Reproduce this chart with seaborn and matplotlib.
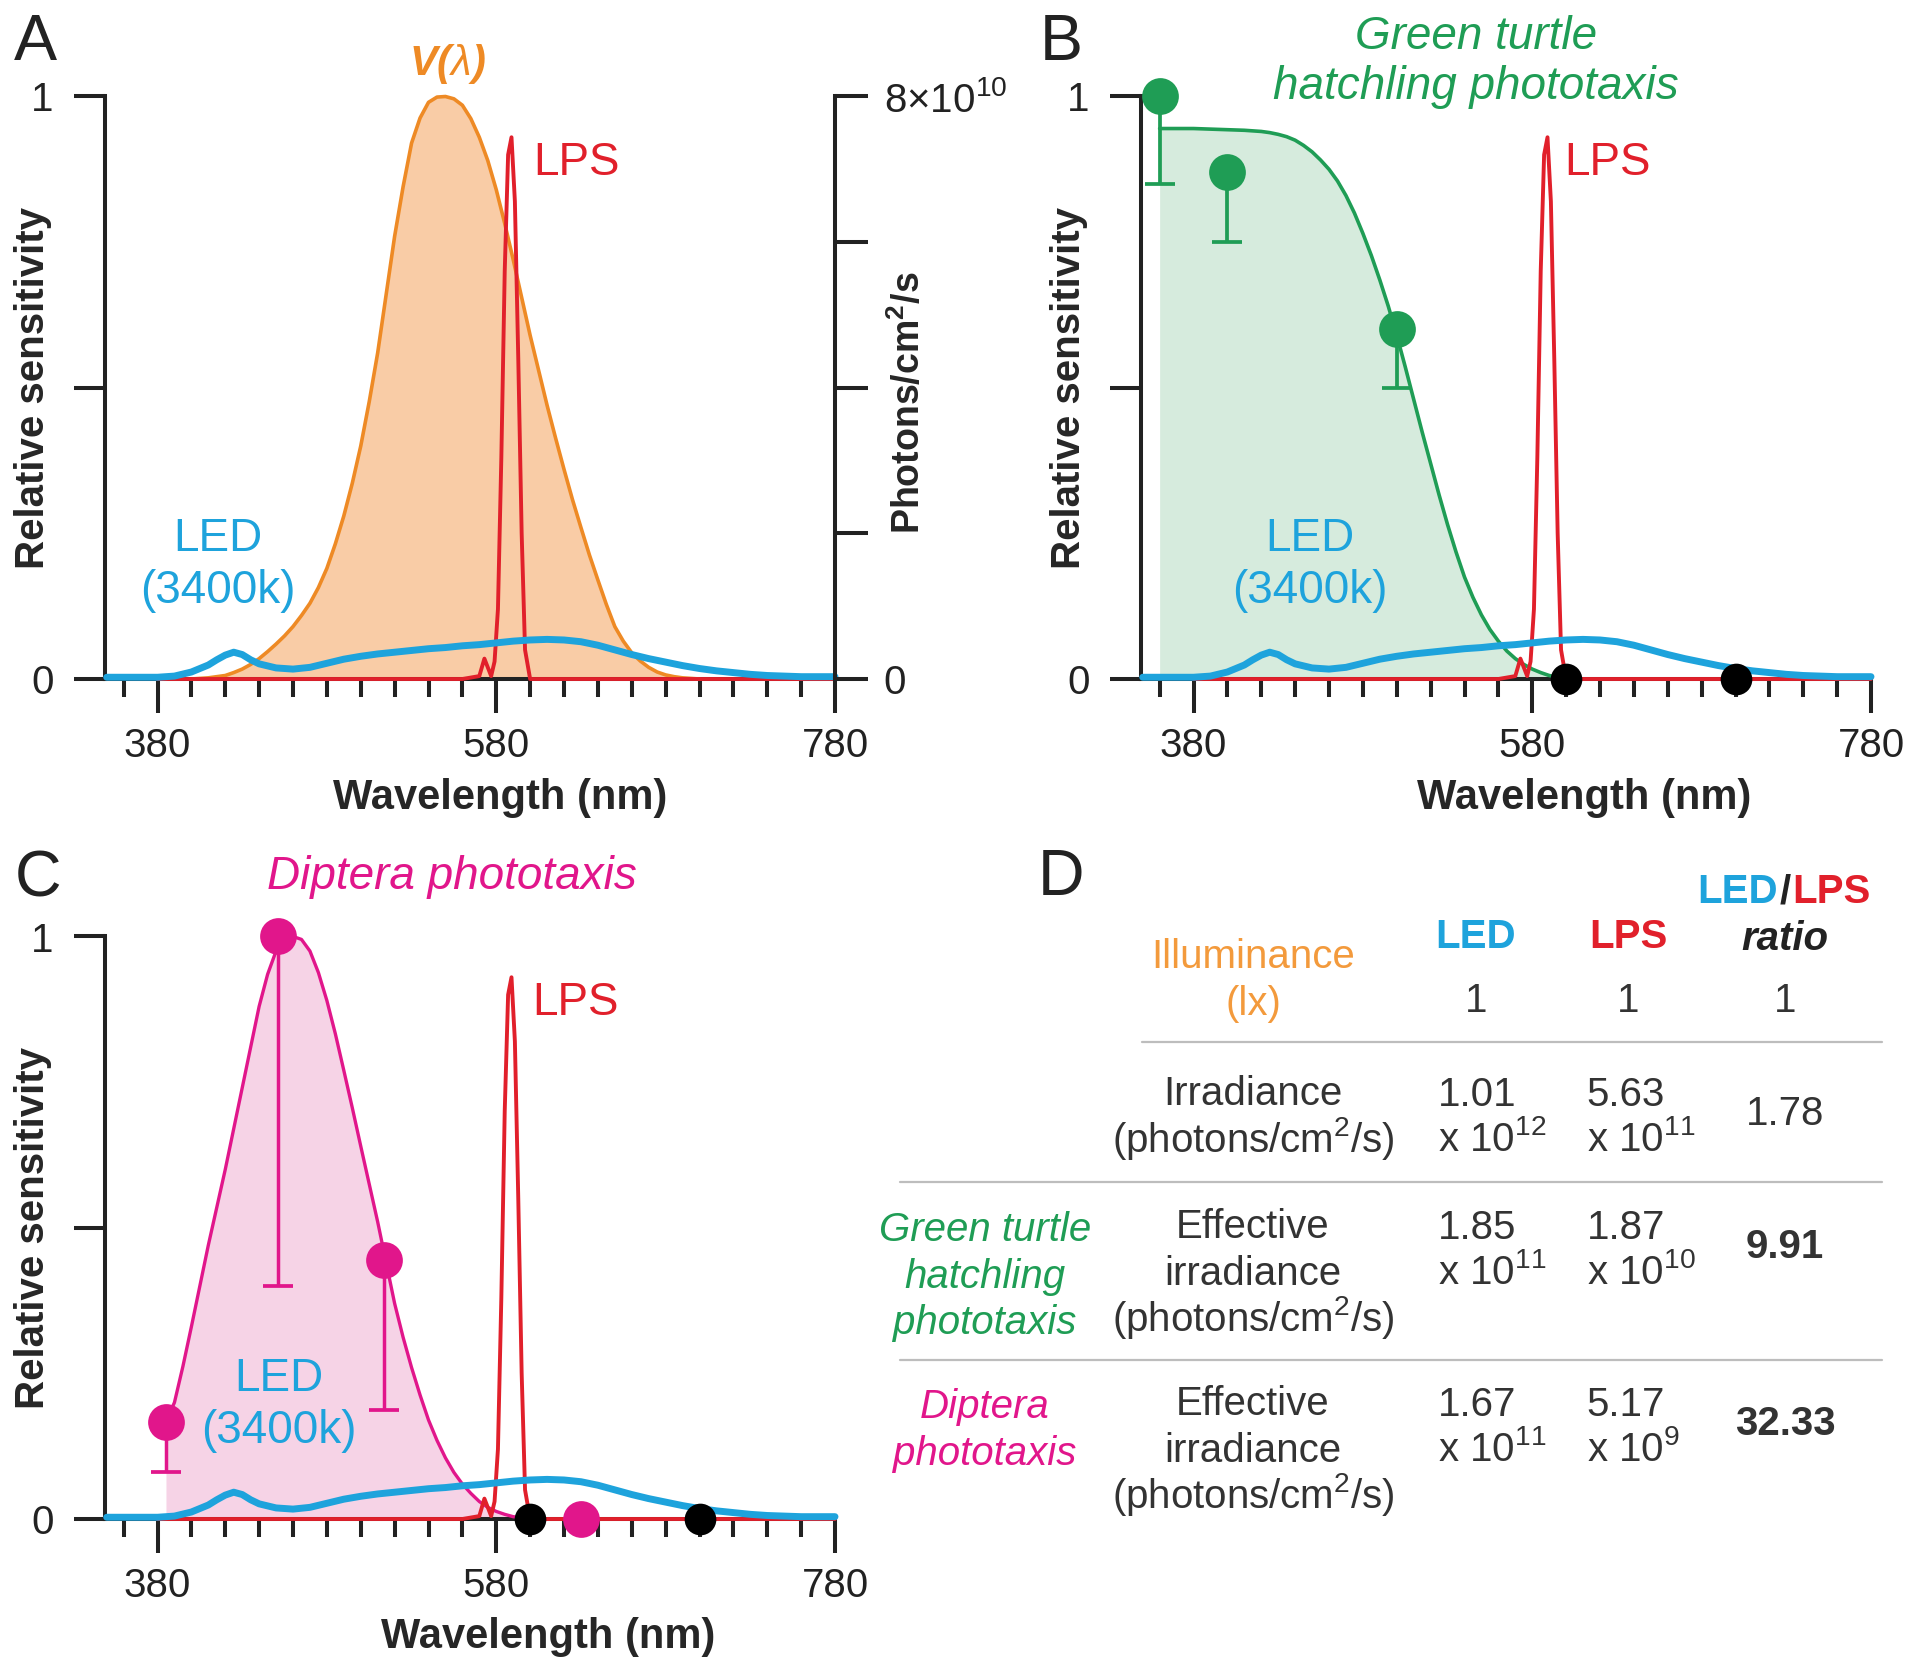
import numpy as np
import matplotlib
matplotlib.use("Agg")
import matplotlib.pyplot as plt
import seaborn as sns

# -----------------------------
# Data
# -----------------------------
# photopic sensitivity V(lambda)
vlambda_nm = list(range(400, 705, 5))
vlambda = [0.0, 0.001, 0.002, 0.004, 0.006, 0.011, 0.017, 0.025, 0.035, 0.047, 0.06, 0.074, 0.09,
           0.109, 0.13, 0.157, 0.19, 0.232, 0.28, 0.336, 0.40, 0.476, 0.56, 0.66, 0.76, 0.845, 0.92,
           0.963, 0.99, 0.999, 1.0, 0.996, 0.985, 0.962, 0.93, 0.89, 0.84, 0.782, 0.72, 0.655, 0.59,
           0.53, 0.47, 0.414, 0.36, 0.308, 0.26, 0.213, 0.17, 0.128, 0.09, 0.065, 0.045, 0.031, 0.02,
           0.012, 0.007, 0.004, 0.002, 0.001, 0.0]

# LED (3400k) spectrum
led_nm = [350, 360, 370, 380, 390, 400, 410, 415, 420, 425, 430, 435, 440, 450, 460, 470, 480, 490,
          500, 510, 520, 530, 540, 550, 560, 570, 580, 590, 600, 610, 620, 630, 640, 650, 660, 670,
          680, 690, 700, 710, 720, 730, 740, 750, 760, 770, 780]
led = [0.003, 0.003, 0.003, 0.003, 0.005, 0.012, 0.024, 0.033, 0.041, 0.046, 0.042, 0.033, 0.026, 0.019,
       0.017, 0.02, 0.027, 0.034, 0.039, 0.043, 0.046, 0.049, 0.052, 0.054, 0.057, 0.059, 0.062, 0.065,
       0.067, 0.068, 0.067, 0.064, 0.058, 0.05, 0.042, 0.035, 0.029, 0.023, 0.018, 0.014, 0.011, 0.008,
       0.006, 0.005, 0.004, 0.004, 0.004]

# LPS spectrum
lps_nm = [380, 560, 570, 573, 575, 577, 579, 581, 583, 585, 587, 589, 591, 593, 595, 597, 600, 780]
lps = [0, 0, 0.005, 0.035, 0.02, 0.005, 0.03, 0.12, 0.38, 0.7, 0.9, 0.93, 0.82, 0.55, 0.25, 0.05, 0, 0]

# green turtle hatchling phototaxis
turtle_nm = [360, 370, 380, 390, 400, 410, 420] + list(range(425, 605, 5))
turtle = [0.945, 0.945, 0.945, 0.944, 0.943, 0.942, 0.94,
          0.938, 0.935, 0.931, 0.925, 0.916, 0.905, 0.891, 0.875, 0.855, 0.83, 0.80, 0.765, 0.727,
          0.685, 0.64, 0.59, 0.536, 0.48, 0.424, 0.37, 0.316, 0.265, 0.218, 0.175, 0.14, 0.11, 0.085,
          0.065, 0.048, 0.035, 0.025, 0.017, 0.011, 0.006, 0.003, 0.0]
turtle_pts_nm = [360, 400, 500]
turtle_pts = [1.0, 0.87, 0.60]
turtle_err_lo = [0.15, 0.12, 0.10]

# diptera phototaxis
diptera_nm = list(range(385, 605, 5))
diptera = [0.167, 0.2, 0.262, 0.33, 0.40, 0.47, 0.535, 0.60, 0.67, 0.74, 0.81, 0.88, 0.935, 0.975,
           0.995, 1.0, 0.995, 0.975, 0.938, 0.89, 0.833, 0.77, 0.706, 0.64, 0.575, 0.51, 0.44, 0.37,
           0.312, 0.26, 0.213, 0.17, 0.135, 0.105, 0.08, 0.06, 0.044, 0.03, 0.02, 0.013, 0.008, 0.004,
           0.002, 0.0]
diptera_pts_nm = [385, 451, 514]
diptera_pts = [0.167, 1.0, 0.445]
diptera_err_lo = [0.086, 0.60, 0.258]
diptera_zero_nm = [630]

zero_pts_nm = [600, 700]

# table (panel D)
tbl_led = ["1.01", "1.85", "1.67"]
tbl_led_exp = ["12", "11", "11"]
tbl_lps = ["5.63", "1.87", "5.17"]
tbl_lps_exp = ["11", "10", "9"]
tbl_ratio = ["1.78", "9.91", "32.33"]

# -----------------------------
# Style
# -----------------------------
ORANGE = "#ee8a25"
ORANGE_FILL = "#f9cca6"
BLUE = "#1ea3dc"
RED = "#e1202b"
GREEN = "#1f9d55"
GREEN_FILL = "#d6ebdd"
PINK = "#e1168b"
PINK_FILL = "#f6d3e6"
DARK = "#222222"
GREY_TXT = "#333333"

sns.set_theme(style="ticks")
plt.rcParams["font.family"] = ["Liberation Sans", "DejaVu Sans"]
plt.rcParams["mathtext.fontset"] = "custom"
plt.rcParams["mathtext.rm"] = "Liberation Sans"
plt.rcParams["mathtext.it"] = "Liberation Sans:italic"
plt.rcParams["mathtext.bf"] = "Liberation Sans:bold"
plt.rcParams["text.color"] = DARK
plt.rcParams["axes.edgecolor"] = DARK
plt.rcParams["xtick.color"] = DARK
plt.rcParams["ytick.color"] = DARK

W, H = 1913, 1667
fig = plt.figure(figsize=(W / 100, H / 100), dpi=100)
fig.patch.set_facecolor("white")


def px(x, y):
    return x / W, 1 - y / H


def make_axes(left, top_y0):
    # left edge and y=0 position in pixels
    l, b = px(left, top_y0)
    ax = fig.add_axes([l, b, 730 / W, 582.5 / H])
    ax.set_facecolor("none")
    ax.set_xlim(349, 780)
    ax.set_ylim(0, 1)
    ax.set_xticks([380, 580, 780])
    ax.set_xticklabels(["380", "580", "780"])
    ax.set_xticks([x for x in range(360, 780, 20) if x not in (380, 580)], minor=True)
    ax.set_yticks([0, 0.5, 1])
    ax.set_yticklabels(["0", "", "1"])
    ax.tick_params(axis="x", which="major", length=24.5, width=2.9, pad=10, labelsize=29, direction="out")
    ax.tick_params(axis="x", which="minor", length=13, width=2.9, direction="out")
    ax.tick_params(axis="y", length=22, width=2.9, pad=15, labelsize=29, direction="out")
    for s in ["top", "right"]:
        ax.spines[s].set_visible(False)
    for s in ["left", "bottom"]:
        ax.spines[s].set_linewidth(2.9)
    ax.set_xlabel("Wavelength (nm)", fontsize=30, fontweight="bold")
    ax.set_ylabel("Relative sensitivity", fontsize=29, fontweight="bold")
    ax.yaxis.set_label_coords(-0.073, 0.5)
    return ax


def draw_sources(ax, led_x, lps_x):
    sns.lineplot(x=lps_nm, y=lps, ax=ax, color=RED, lw=2.8, zorder=4, clip_on=False)
    sns.lineplot(x=led_nm, y=led, ax=ax, color=BLUE, lw=5, zorder=5, clip_on=False)
    ax.text(lps_x, 0.865, "LPS", color=RED, fontsize=33, va="baseline", ha="left")
    ax.text(led_x, 0.2206, "LED", color=BLUE, fontsize=33, va="baseline", ha="center")
    ax.text(led_x, 0.131, "(3400k)", color=BLUE, fontsize=33, va="baseline", ha="center")


# -----------------------------
# Panel A
# -----------------------------
axA = make_axes(105, 679)
axA.fill_between(vlambda_nm, vlambda, 0, color=ORANGE_FILL, lw=0, zorder=1)
sns.lineplot(x=vlambda_nm, y=vlambda, ax=axA, color=ORANGE, lw=2.6, zorder=3, clip_on=False)
draw_sources(axA, 415.5, 602)
axA.text(551, 1.037, r"V($\lambda$)", color=ORANGE, fontsize=30, fontweight="bold",
         fontstyle="italic", ha="center", va="baseline")
axA.xaxis.set_label_coords(0.541, -0.17)

axA2 = axA.twinx()
axA2.set_ylim(0, 8e10)
axA2.set_yticks([0, 2e10, 4e10, 6e10, 8e10])
axA2.set_yticklabels(["0", "", "", "", r"8×10$^{10}$"])
axA2.tick_params(axis="y", length=24, width=2.9, pad=11, labelsize=29, direction="out")
for s in ["top", "left", "bottom"]:
    axA2.spines[s].set_visible(False)
axA2.spines["right"].set_linewidth(2.9)
axA2.set_ylabel(r"Photons/cm$^{\mathbf{2}}$/s", fontsize=27, fontweight="bold")
axA2.yaxis.set_label_coords(1.075, 0.474)

# -----------------------------
# Panel B
# -----------------------------
axB = make_axes(1141, 679)
axB.fill_between(turtle_nm, turtle, 0, color=GREEN_FILL, lw=0, zorder=1)
sns.lineplot(x=turtle_nm, y=turtle, ax=axB, color=GREEN, lw=2.6, zorder=3, clip_on=False)
draw_sources(axB, 449, 599)
axB.errorbar(turtle_pts_nm, turtle_pts, yerr=[turtle_err_lo, [0] * len(turtle_pts)], fmt="none",
             ecolor=GREEN, elinewidth=2.7, capsize=10.5, capthick=2.7, zorder=6, clip_on=False)
sns.scatterplot(x=turtle_pts_nm, y=turtle_pts, ax=axB, color=GREEN, s=700, linewidth=0,
                zorder=7, clip_on=False)
sns.scatterplot(x=zero_pts_nm, y=[0] * len(zero_pts_nm), ax=axB, color="black", s=520,
                linewidth=0, zorder=8, clip_on=False)
axB.text(547, 1.082, "Green turtle", color=GREEN, fontsize=33, fontstyle="italic",
         ha="center", va="baseline")
axB.text(547, 0.995, "hatchling phototaxis", color=GREEN, fontsize=33, fontstyle="italic",
         ha="center", va="baseline")
axB.xaxis.set_label_coords(0.607, -0.17)

# -----------------------------
# Panel C
# -----------------------------
axC = make_axes(105, 1519)
axC.fill_between(diptera_nm, diptera, 0, color=PINK_FILL, lw=0, zorder=1)
sns.lineplot(x=diptera_nm, y=diptera, ax=axC, color=PINK, lw=2.4, zorder=3, clip_on=False)
draw_sources(axC, 451.5, 601)
axC.errorbar(diptera_pts_nm, diptera_pts, yerr=[diptera_err_lo, [0] * len(diptera_pts)], fmt="none",
             ecolor=PINK, elinewidth=2.5, capsize=10.5, capthick=2.7, zorder=6, clip_on=False)
sns.scatterplot(x=diptera_pts_nm + diptera_zero_nm, y=diptera_pts + [0] * len(diptera_zero_nm),
                ax=axC, color=PINK, s=700, linewidth=0, zorder=7, clip_on=False)
sns.scatterplot(x=zero_pts_nm, y=[0] * len(zero_pts_nm), ax=axC, color="black", s=520,
                linewidth=0, zorder=8, clip_on=False)
axC.text(554, 1.082, "Diptera phototaxis", color=PINK, fontsize=33, fontstyle="italic",
         ha="center", va="baseline")
axC.xaxis.set_label_coords(0.607, -0.168)

# -----------------------------
# Panel letters
# -----------------------------
for letter, (x, y) in zip("ABCD", [(14, 60), (1040, 60), (15, 896), (1038, 895)]):
    fig.text(*px(x, y), letter, fontsize=46.5, ha="left", va="baseline", color=DARK)

# -----------------------------
# Panel D: table
# -----------------------------
TS = 29


def t(x, y, s, **kw):
    kw.setdefault("fontsize", TS)
    kw.setdefault("color", GREY_TXT)
    kw.setdefault("va", "baseline")
    fig.text(*px(x, y), s, **kw)


def hline(x0, x1, y):
    fig.add_artist(plt.Line2D([x0 / W, x1 / W], [1 - y / H, 1 - y / H],
                              color="#bdbdbd", lw=1.6, transform=fig.transFigure))


COL_SP, COL_LBL, COL_LED, COL_LPS, COL_R = 985, 1253, 1437.5, 1586.7, 1785

# header
t(1778, 903, "LED", color=BLUE, fontweight="bold", ha="right")
t(1785, 903, "/", color=DARK, fontweight="bold", ha="center")
t(1792, 903, "LPS", color=RED, fontweight="bold", ha="left")
t(COL_R, 950, "ratio", color=DARK, fontweight="bold", fontstyle="italic", ha="center")
t(1476, 948, "LED", color=BLUE, fontweight="bold", ha="center")
t(1628, 948, "LPS", color=RED, fontweight="bold", ha="center")
t(COL_LBL, 968, "Illuminance", color="#f39a3c", ha="center")
t(COL_LBL, 1015, "(lx)", color="#f39a3c", ha="center")
for xc in (1476, 1628, COL_R):
    t(xc, 1012, "1", ha="center")
hline(1142, 1882, 1041.5)

# data rows
row_base = [1106, 1239, 1416]
row_lines = [["Irradiance", r"(photons/cm$^2$/s)"],
             ["Effective", "irradiance", r"(photons/cm$^2$/s)"],
             ["Effective", "irradiance", r"(photons/cm$^2$/s)"]]
species = [None, ("Green turtle", "hatchling", "phototaxis"), ("Diptera", "phototaxis")]
species_col = [None, GREEN, PINK]
ratio_bold = [False, True, True]
ratio_off = [19, 18.6, 19]

for i, yb in enumerate(row_base):
    for k, s in enumerate(row_lines[i]):
        t(COL_LBL, yb - 1 + 46.5 * k, s, ha="center")
    if species[i] is not None:
        for k, s in enumerate(species[i]):
            t(COL_SP, yb + 2 + 46.5 * k, s, color=species_col[i], fontstyle="italic", ha="center")
    t(COL_LED, yb, tbl_led[i], ha="left")
    t(COL_LED, yb + 45, "x 10$^{%s}$" % tbl_led_exp[i], ha="left")
    t(COL_LPS, yb, tbl_lps[i], ha="left")
    t(COL_LPS, yb + 45, "x 10$^{%s}$" % tbl_lps_exp[i], ha="left")
    t(COL_R, yb + ratio_off[i], tbl_ratio[i], ha="center",
      fontweight="bold" if ratio_bold[i] else "normal")

hline(900, 1882, 1182)
hline(900, 1882, 1360)

fig.savefig("out.png", dpi=100, facecolor="white")
